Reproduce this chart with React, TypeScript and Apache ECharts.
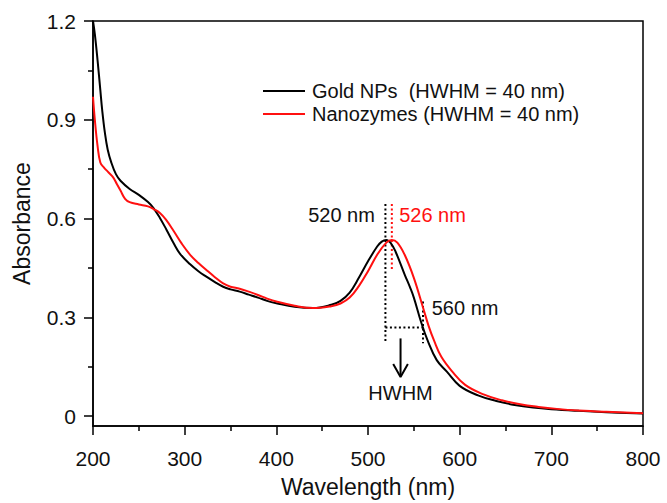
import React, { useEffect, useRef } from "react";
import * as echarts from "echarts";

const FONT = "'Liberation Sans', Arial, Helvetica, sans-serif";

const goldWavelengths = [200, 202, 205, 208, 210, 213, 216, 220, 225, 230, 240, 250, 260, 266, 273, 280, 288, 295, 306, 315, 324, 333, 342, 350, 360, 370, 380, 390, 400, 420, 440, 460, 470, 480, 490, 500, 510, 515, 520, 525, 530, 540, 546, 550, 558, 565, 575, 586, 600, 620, 640, 660, 680, 700, 730, 760, 800];
const goldValues = [1.2, 1.16, 1.08, 0.99, 0.93, 0.86, 0.81, 0.77, 0.735, 0.715, 0.69, 0.672, 0.65, 0.632, 0.602, 0.567, 0.525, 0.493, 0.461, 0.44, 0.423, 0.407, 0.393, 0.385, 0.378, 0.369, 0.36, 0.35, 0.343, 0.332, 0.328, 0.338, 0.35, 0.375, 0.42, 0.47, 0.515, 0.53, 0.535, 0.525, 0.5, 0.43, 0.39, 0.36, 0.285, 0.23, 0.17, 0.135, 0.092, 0.063, 0.046, 0.034, 0.026, 0.021, 0.016, 0.012, 0.008];

const nanoWavelengths = [200, 202, 205, 208, 212, 217, 222, 226, 230, 235, 240, 250, 260, 266, 273, 280, 288, 297, 306, 315, 324, 333, 342, 350, 360, 370, 380, 390, 400, 420, 440, 460, 470, 480, 490, 500, 510, 520, 526, 532, 540, 550, 560, 566, 572, 580, 592, 606, 626, 646, 666, 686, 706, 730, 760, 800];
const nanoValues = [0.97, 0.9, 0.82, 0.77, 0.755, 0.74, 0.725, 0.705, 0.685, 0.66, 0.65, 0.643, 0.637, 0.629, 0.617, 0.595, 0.562, 0.523, 0.49, 0.465, 0.443, 0.422, 0.403, 0.393, 0.387, 0.378, 0.368, 0.357, 0.348, 0.335, 0.328, 0.334, 0.342, 0.36, 0.395, 0.44, 0.49, 0.527, 0.535, 0.527, 0.49, 0.42, 0.33, 0.275, 0.23, 0.18, 0.135, 0.095, 0.066, 0.048, 0.036, 0.028, 0.022, 0.017, 0.013, 0.009];

const seriesNames = ["Gold NPs  (HWHM = 40 nm)", "Nanozymes (HWHM = 40 nm)"];
const yTickValues = [0, 0.3, 0.6, 0.9, 1.2];
const yMinorTickValues = [0.15, 0.45, 0.75, 1.05];

// annotation guides (data coordinates)
const goldPeakLine = [[519, 0.644], [519, 0.221]];
const nanoPeakLine = [[526, 0.644], [526, 0.442]];
const halfLine = [[560, 0.348], [560, 0.221]];
const halfWidthLine = [[519, 0.269], [560, 0.269]];
const arrowShaft = [[535.5, 0.236], [535.5, 0.122]];
const arrowHead = [[527.5, 0.158], [535.5, 0.119], [543.5, 0.158]];
const annotationTexts = [
  { text: "520 nm", at: [507.5, 0.611], color: "#111", align: "right" },
  { text: "526 nm", at: [534, 0.611], color: "#ff1010", align: "left" },
  { text: "560 nm", at: [569.5, 0.327], color: "#111", align: "left" },
  { text: "HWHM", at: [535.5, 0.07], color: "#111", align: "center" },
];

const zip = (xs: number[], ys: number[]) => xs.map((x, i) => [x, ys[i]]);

export default function App() {
  const ref = useRef<HTMLDivElement>(null);
  useEffect(() => {
    if (!ref.current) return;
    const chart = echarts.init(ref.current, null, { renderer: "svg" });
    const dotted = (data: number[][], color: string) => ({
      type: "line",
      data,
      showSymbol: false,
      silent: true,
      z: 1,
      lineStyle: { color, width: 2, type: [2, 2.5] },
    });
    const solid = (data: number[][]) => ({
      type: "line",
      data,
      showSymbol: false,
      silent: true,
      lineStyle: { color: "#000", width: 2 },
    });
    chart.setOption({
      animation: false,
      backgroundColor: "#fff",
      textStyle: { fontFamily: FONT },
      grid: {
        left: 93,
        right: 24,
        top: 21,
        bottom: 75,
        show: true,
        borderColor: "#000",
        borderWidth: 1.5,
        backgroundColor: "transparent",
      },
      legend: {
        data: seriesNames,
        orient: "vertical",
        left: 258,
        top: 76,
        itemWidth: 42,
        itemHeight: 2,
        itemGap: 3,
        icon: "rect",
        textStyle: { fontFamily: FONT, fontSize: 20, color: "#111", padding: [0, 0, 0, 2] },
      },
      xAxis: {
        type: "value",
        min: 200,
        max: 800,
        interval: 100,
        name: "Wavelength (nm)",
        nameLocation: "middle",
        nameGap: 49,
        nameTextStyle: { fontFamily: FONT, fontSize: 23, color: "#111" },
        axisLine: { show: true, onZero: false, lineStyle: { color: "#000", width: 1.5 } },
        axisTick: { show: true, length: 9, lineStyle: { color: "#000", width: 1.5 } },
        minorTick: { show: true, splitNumber: 2, length: 5, lineStyle: { color: "#000", width: 1.5 } },
        axisLabel: { fontFamily: FONT, fontSize: 21, color: "#111", margin: 22 },
        splitLine: { show: false },
        minorSplitLine: { show: false },
      },
      yAxis: [
        {
          type: "value",
          min: -0.03,
          max: 1.2,
          name: "Absorbance",
          nameLocation: "middle",
          nameGap: 60,
          nameTextStyle: { fontFamily: FONT, fontSize: 23, color: "#111" },
          axisLine: { show: true, onZero: false, lineStyle: { color: "#000", width: 1.5 } },
          axisTick: { show: true, length: 9, customValues: yTickValues, lineStyle: { color: "#000", width: 1.5 } },
          axisLabel: {
            fontFamily: FONT,
            fontSize: 21,
            color: "#111",
            margin: 17,
            customValues: yTickValues,
            formatter: (v: number) => String(Math.round(v * 10) / 10),
          },
          splitLine: { show: false },
        },
        {
          type: "value",
          min: -0.03,
          max: 1.2,
          position: "left",
          axisLine: { show: false, onZero: false },
          axisTick: { show: true, length: 5, customValues: yMinorTickValues, lineStyle: { color: "#000", width: 1.5 } },
          axisLabel: { show: false },
          splitLine: { show: false },
        },
      ],
      series: [
        dotted(goldPeakLine, "#000"),
        dotted(nanoPeakLine, "#ff1010"),
        dotted(halfLine, "#000"),
        dotted(halfWidthLine, "#000"),
        solid(arrowShaft),
        solid(arrowHead),
        {
          name: seriesNames[0],
          type: "line",
          data: zip(goldWavelengths, goldValues),
          smooth: 0.4,
          showSymbol: false,
          color: "#000",
          lineStyle: { color: "#000", width: 2 },
          z: 3,
        },
        {
          name: seriesNames[1],
          type: "line",
          data: zip(nanoWavelengths, nanoValues),
          smooth: 0.4,
          showSymbol: false,
          color: "#ff1010",
          lineStyle: { color: "#ff1010", width: 2 },
          z: 4,
        },
        {
          type: "scatter",
          symbolSize: 0,
          silent: true,
          itemStyle: { opacity: 1 },
          data: annotationTexts.map((a) => ({
            value: a.at,
            itemStyle: { opacity: 1 },
            label: {
              show: true,
              position: [0, 0],
              formatter: a.text,
              color: a.color,
              opacity: 1,
              align: a.align,
              verticalAlign: "middle",
              fontFamily: FONT,
              fontSize: 20,
            },
          })),
        },
      ],
    });
    return () => chart.dispose();
  }, []);
  return <div ref={ref} style={{ position: "absolute", left: 0, top: 0, width: 667, height: 503 }} />;
}
